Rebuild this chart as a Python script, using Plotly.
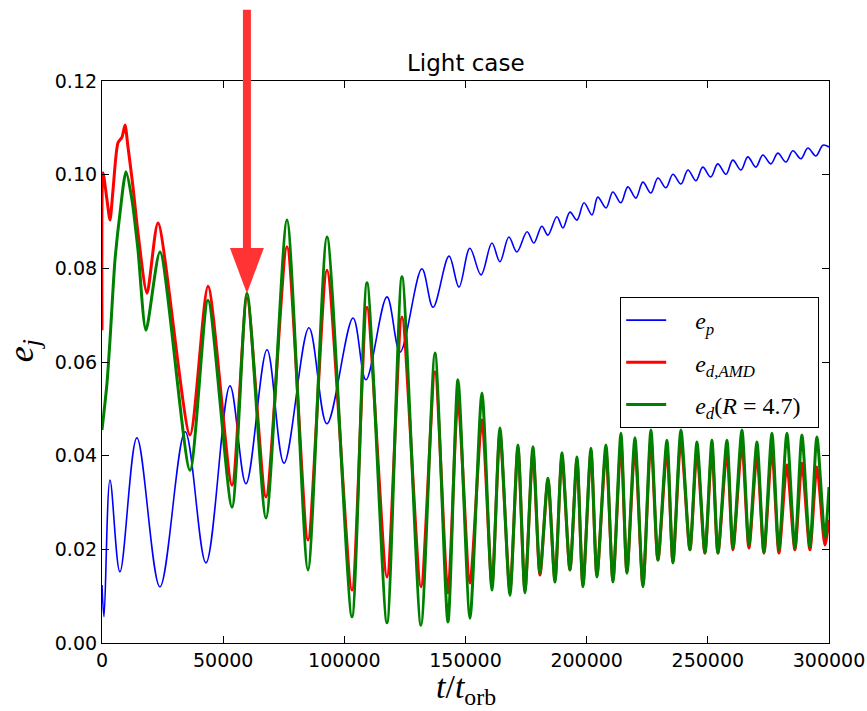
import plotly.graph_objects as go

# ---- data (extrema of each curve) ----
t_p = [0, 825, 3300, 7400, 14400, 23900, 34300, 42900, 52800, 59400, 68100, 75100,
       85400, 92800, 103600, 108900, 117600, 123000, 132000, 136600, 143200, 147300,
       151800, 156400, 160900, 164200, 167900, 171200, 175400, 178200, 181500, 184000,
       187700, 190200, 193100, 196000, 198900, 202200, 204600, 208000, 210800, 214100,
       217000, 220300, 223200, 226500, 229400, 232700, 235600, 238900, 241800, 245100,
       247900, 251200, 254100, 257500, 260300, 263700, 266500, 269800, 272700, 276000,
       278900, 282200, 285100, 288400, 291300, 294600, 297500, 300000]
e_p = [0.0124, 0.0056, 0.0348, 0.0152, 0.0438, 0.0120, 0.0451, 0.0171, 0.0549, 0.0340,
       0.0626, 0.0384, 0.0673, 0.0468, 0.0694, 0.0562, 0.0739, 0.0621, 0.0799, 0.0717,
       0.0826, 0.0760, 0.0843, 0.0786, 0.0854, 0.0814, 0.0867, 0.0835, 0.0878, 0.0854,
       0.0890, 0.0871, 0.0910, 0.0886, 0.0920, 0.0903, 0.0940, 0.0914, 0.0952, 0.0929,
       0.0963, 0.0940, 0.0974, 0.0950, 0.0984, 0.0961, 0.0993, 0.0972, 0.1001, 0.0980,
       0.1010, 0.0987, 0.1016, 0.0995, 0.1023, 0.1001, 0.1031, 0.1010, 0.1038, 0.1016,
       0.1042, 0.1023, 0.1046, 0.1027, 0.1051, 0.1034, 0.1057, 0.1040, 0.1063, 0.1059]

t_amd = [0, 413, 2063, 3300, 4540, 6600, 8250, 9490, 10730, 12790, 14850, 18570, 23100,
         36310, 43740, 53640, 59830, 67670, 76330, 85000, 92840, 103150, 109340, 117590,
         123780, 131620, 137400, 142760, 146890, 151840, 156790, 160910, 164210, 168340,
         171640, 174530, 177830, 180720, 184020, 186910, 189800, 193100, 195990, 198460,
         201760, 204240, 207950, 210840, 214140, 216620, 219920, 223220, 226520, 229410,
         233120, 235600, 238900, 242610, 245500, 248800, 251690, 254170, 257880, 260360,
         264070, 266960, 270260, 273150, 276440, 279330, 282630, 285930, 288820, 292120,
         295010, 298310, 300000]
e_amd = [0.0668, 0.1004, 0.0946, 0.0903, 0.0967, 0.1068, 0.1080, 0.1106, 0.1059, 0.0974,
         0.0876, 0.0747, 0.0897, 0.0444, 0.0762, 0.0337, 0.0737, 0.0312, 0.0846, 0.0220,
         0.0796, 0.0113, 0.0717, 0.0141, 0.0696, 0.0120, 0.0579, 0.0107, 0.0519, 0.0128,
         0.0476, 0.0124, 0.0448, 0.0113, 0.0416, 0.0113, 0.0408, 0.0145, 0.0348, 0.0135,
         0.0397, 0.0156, 0.0391, 0.0124, 0.0408, 0.0145, 0.0408, 0.0135, 0.0423, 0.0152,
         0.0416, 0.0124, 0.0433, 0.0177, 0.0412, 0.0173, 0.0433, 0.0199, 0.0408, 0.0192,
         0.0412, 0.0192, 0.0408, 0.0199, 0.0423, 0.0203, 0.0401, 0.0192, 0.0412, 0.0192,
         0.0380, 0.0199, 0.0384, 0.0199, 0.0376, 0.0209, 0.0263]

t_r = [0, 2063, 3300, 5364, 7427, 9900, 12380, 14850, 18150, 23930, 36310, 43740, 53640,
       59830, 67670, 76330, 85000, 92840, 103150, 109340, 117590, 123780, 131620, 137400,
       142760, 146890, 151840, 156790, 160910, 164210, 168340, 171640, 174530, 177830,
       180720, 184020, 186910, 189800, 193100, 195990, 198460, 201760, 204240, 207950,
       210840, 214140, 216620, 219920, 223220, 226520, 229410, 233120, 235600, 238900,
       242610, 245500, 248800, 251690, 254170, 257880, 260360, 264070, 266960, 270260,
       273150, 276440, 279330, 282630, 285930, 288820, 292120, 295010, 298310, 300000]
e_r = [0.0455, 0.0555, 0.0647, 0.0818, 0.0918, 0.1006, 0.0946, 0.0839, 0.0668, 0.0835,
       0.0369, 0.0732, 0.0290, 0.0747, 0.0267, 0.0903, 0.0156, 0.0867, 0.0056, 0.0769,
       0.0043, 0.0782, 0.0038, 0.0619, 0.0045, 0.0562, 0.0053, 0.0534, 0.0113, 0.0459,
       0.0102, 0.0423, 0.0107, 0.0419, 0.0149, 0.0352, 0.0130, 0.0406, 0.0156, 0.0397,
       0.0120, 0.0416, 0.0141, 0.0423, 0.0130, 0.0448, 0.0149, 0.0438, 0.0120, 0.0455,
       0.0177, 0.0433, 0.0171, 0.0455, 0.0199, 0.0429, 0.0192, 0.0433, 0.0192, 0.0433,
       0.0203, 0.0455, 0.0209, 0.0429, 0.0194, 0.0448, 0.0199, 0.0448, 0.0203, 0.0444,
       0.0205, 0.0440, 0.0226, 0.0333]

x_ticks = [0, 50000, 100000, 150000, 200000, 250000, 300000]
y_ticks = [0.00, 0.02, 0.04, 0.06, 0.08, 0.10, 0.12]
ARROW_T = 59800

SERIF = "Liberation Serif, DejaVu Serif, serif"
SANS = "DejaVu Sans, sans-serif"
SP = "\u00a0\u00a0\u00a0\u00a0"

fig = go.Figure()
fig.add_trace(go.Scatter(x=t_p, y=e_p, mode="lines", line=dict(color="#0000ff", width=1.6, shape="spline", smoothing=1.0),
                         name=SP + "<i>e</i><sub><i>p</i></sub>", legendgroup="a"))
fig.add_trace(go.Scatter(x=t_amd, y=e_amd, mode="lines", line=dict(color="#ff0000", width=3, shape="spline", smoothing=0.7),
                         name=SP + "<i>e</i><sub><i>d,AMD</i></sub>", legendgroup="b"))
fig.add_trace(go.Scatter(x=t_r, y=e_r, mode="lines", line=dict(color="#008000", width=3, shape="spline", smoothing=0.7),
                         name=SP + "<i>e</i><sub><i>d</i></sub>(<i>R</i> = 4.7)\u00a0\u00a0", legendgroup="c"))

# red arrow annotation (shaft + head)
fig.add_shape(type="line", xref="x", yref="paper", x0=ARROW_T, x1=ARROW_T, y0=0.70, y1=1.127,
              line=dict(color="#ff3333", width=8), layer="above")
fig.add_shape(type="path", xref="x", yref="paper",
              path=f"M {ARROW_T-7000},0.703 L {ARROW_T+7000},0.703 L {ARROW_T},0.622 Z",
              fillcolor="#ff3333", line=dict(color="#ff3333", width=0), layer="above")

fig.add_annotation(text="Light case", xref="paper", yref="paper", x=0.5, y=1.0, yanchor="bottom",
                   yshift=3, showarrow=False, font=dict(family=SANS, size=23, color="black"))
fig.add_annotation(text="<i>e</i><sub><i>j</i></sub>", xref="paper", yref="paper", x=-0.108, y=0.52,
                   xanchor="center", yanchor="middle",
                   textangle=-90, showarrow=False, font=dict(family=SERIF, size=36, color="black"))
fig.add_annotation(text="<i>t</i>/<i>t</i><sub>orb</sub>", xref="paper", yref="paper", x=0.5, y=-0.082,
                   xanchor="center", yanchor="middle", showarrow=False,
                   font=dict(family=SERIF, size=34, color="black"))

axis_common = dict(showline=True, linecolor="black", linewidth=1.2, mirror="allticks", ticks="inside",
                   ticklen=7, tickcolor="black", showgrid=False, zeroline=False,
                   tickfont=dict(family=SANS, size=19, color="black"))
fig.update_xaxes(range=[0, 300000], tickvals=x_ticks, ticktext=[str(v) for v in x_ticks], **axis_common)
fig.update_yaxes(range=[0, 0.12], tickvals=y_ticks, ticktext=[f"{v:.2f}" for v in y_ticks], **axis_common)

fig.update_layout(
    width=867, height=711,
    margin=dict(l=102, r=38, t=81, b=68, autoexpand=False),
    paper_bgcolor="white", plot_bgcolor="white",
    showlegend=True,
    legend=dict(x=0.7125, y=0.616, xanchor="left", yanchor="top", bgcolor="white",
                bordercolor="black", borderwidth=1.2, tracegroupgap=8,
                font=dict(family=SERIF, size=24, color="black"), itemwidth=40),
)

fig.write_html("out.html", config={"displayModeBar": False},
               post_script="document.body.style.margin='0px';document.body.style.overflow='hidden';")
